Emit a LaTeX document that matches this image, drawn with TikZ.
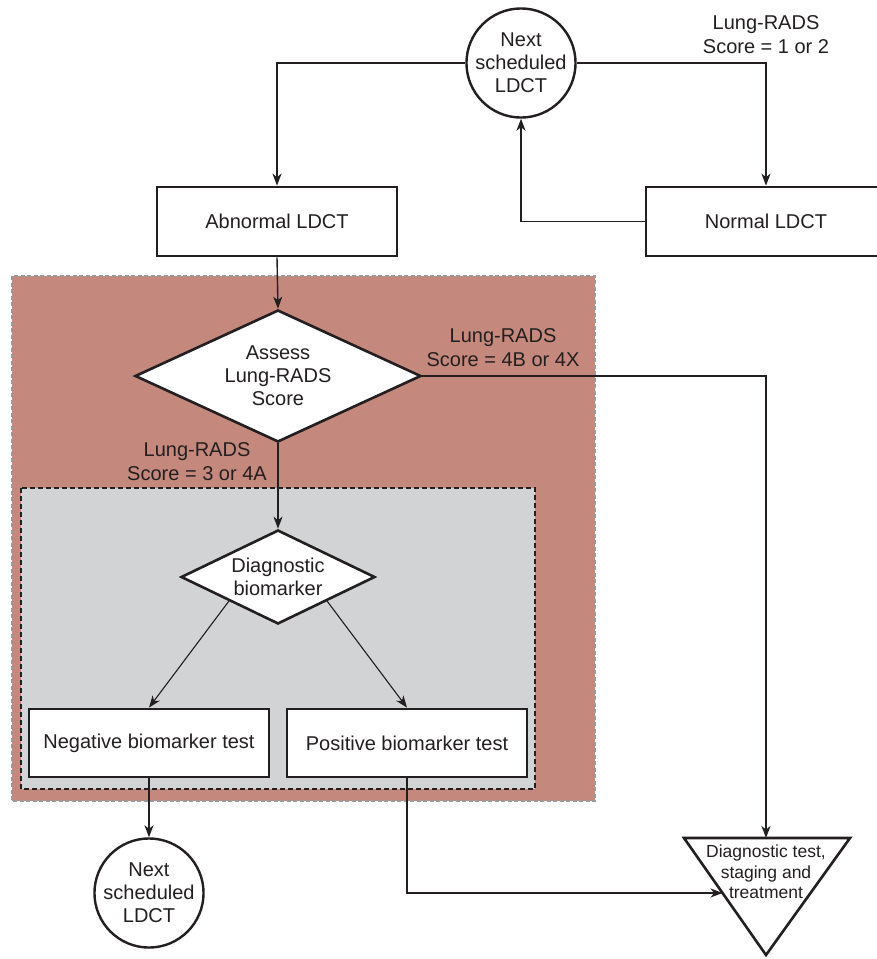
\documentclass[tikz,border=0pt]{standalone}
\usepackage{fontspec}
\setmainfont{Liberation Sans}
\usetikzlibrary{shapes.geometric,arrows.meta,calc}
\definecolor{ink}{HTML}{231F20}
\definecolor{redzone}{HTML}{C4887C}
\definecolor{grayzone}{HTML}{D1D3D4}
\definecolor{dashgray}{HTML}{9A9A9A}
\begin{document}
\begin{tikzpicture}[x=1pt,y=-1pt,
  txt/.style={font=\fontsize{20}{23}\selectfont, text=ink, align=center},
  box/.style={txt, draw=ink, fill=white, line width=2.7pt, rectangle, minimum height=69pt, inner sep=0pt},
  circ/.style={txt, draw=ink, fill=white, line width=2.4pt, circle, minimum size=108pt, inner sep=0pt},
  dia/.style={txt, draw=ink, fill=white, line width=2.6pt, diamond, inner sep=0pt},
  lbl/.style={font=\fontsize{20}{24}\selectfont, text=ink, align=center, inner sep=0pt},
  conn/.style={draw=ink, line width=1.8pt, -{Stealth[length=12pt,width=9pt,inset=3.5pt]}},
  thin/.style={draw=ink, line width=1.1pt, -{Stealth[length=12pt,width=9pt,inset=3.5pt]}},
  plain/.style={draw=ink, line width=1.8pt}]
\useasboundingbox (0,0) rectangle (877,959);
% zones
\path[fill=redzone, draw=dashgray, line width=1.6pt, dash pattern=on 4pt off 2.5pt] (12,276) rectangle (595,801);
\path[fill=grayzone, draw=ink, line width=2pt, dash pattern=on 5pt off 3pt] (21,488) rectangle (535,789);
% nodes
\node[circ] (topc) at (521,63) {Next\\scheduled\\LDCT};
\node[box, minimum width=240pt] (abn) at (277,221.5) {Abnormal LDCT};
\node[box, minimum width=240pt] (norm) at (766,221.5) {Normal LDCT};
\node[dia, minimum width=286pt, minimum height=132pt, aspect=2.17] (d1) at (278,376) {Assess\\Lung-RADS\\Score};
\node[dia, minimum width=194pt, minimum height=94pt, aspect=2.06] (d2) at (278,577) {Diagnostic\\biomarker};
\node[box, minimum width=240pt, minimum height=68pt] (neg) at (149,743) {Negative biomarker test};
\node[box, minimum width=240pt, minimum height=68pt] (posb) at (407,743) {Positive biomarker test};
\node[circ, minimum size=107pt] (botc) at (149,893) {Next\\scheduled\\LDCT};
% triangle
\coordinate (triTL) at (684,838);
\coordinate (triTR) at (850,838);
\coordinate (triB) at (766,955);
\coordinate (tritop) at (766,838);
\coordinate (trileft) at ($(triTL)!0.47!(triB)$);
\path[draw=ink, fill=white, line width=2.6pt, line join=miter] (triTL) -- (triTR) -- (triB) -- cycle;
\node[font=\fontsize{17.5}{20.5}\selectfont, text=ink, align=center, inner sep=0pt] (tritext) at (766,872) {Diagnostic test,\\staging and\\treatment};
% labels
\node[lbl] (l12) at (766,35) {Lung-RADS\\Score = 1 or 2};
\node[lbl] (l4b) at (503,348) {Lung-RADS\\Score = 4B or 4X};
\node[lbl] (l3) at (197,462) {Lung-RADS\\Score = 3 or 4A};
% connectors
\draw[conn] (topc.west) -| (abn.north);
\draw[conn] (topc.east) -| (norm.north);
\draw[conn] (norm.west) -| (topc.south);
\draw[thin, line width=1.4pt] (abn.south) -- (d1.north);
\draw[conn] (d1.east) -| (tritop);
\draw[thin, line width=1.4pt] (d1.south) -- (d2.north);
\draw[thin] (d2.south west) -- (neg.north);
\draw[thin] (d2.south east) -- (posb.north);
\draw[thin, line width=1.4pt] (neg.south) -- (botc.north);
\draw[conn, line width=1.5pt] (posb.south) |- (trileft);
\end{tikzpicture}
\end{document}
